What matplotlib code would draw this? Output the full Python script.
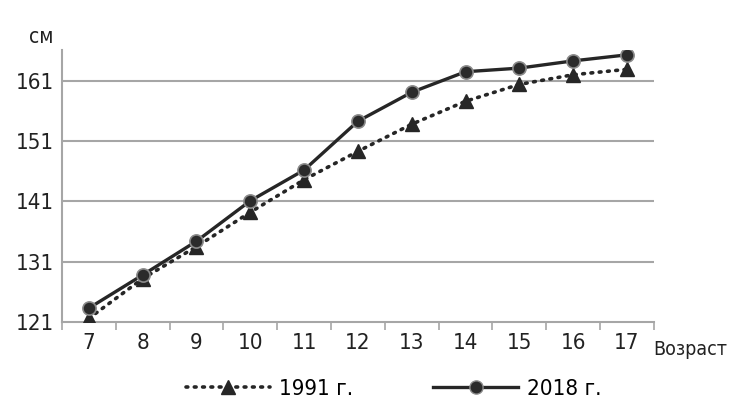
import matplotlib
matplotlib.use("Agg")
import matplotlib.pyplot as plt
from matplotlib.ticker import FixedLocator
from matplotlib.lines import Line2D

ages = ["7", "8", "9", "10", "11", "12", "13", "14", "15", "16", "17"]
h1991 = [121.6, 128.2, 133.5, 139.2, 144.6, 149.3, 153.8, 157.6, 160.4, 162.0, 162.9]
h2018 = [123.3, 128.8, 134.4, 141.1, 146.2, 154.3, 159.1, 162.5, 163.1, 164.3, 165.3]
yticks = [121, 131, 141, 151, 161]

plt.rcParams['font.family'] = ['DejaVu Sans']
plt.rcParams['font.stretch'] = 'condensed'

fig = plt.figure(figsize=(7.29, 4.09), dpi=100)
ax = fig.add_axes([0.085, 0.2127, 0.812, 0.665])

x = range(len(ages))
grid_c = "#a6a6a6"
line_c = "#262626"
txt_c = "#222222"

for yv in yticks[1:]:
    ax.axhline(yv, color=grid_c, linewidth=1.5, zorder=0)

ax.plot(x, h1991, linestyle=(0, (0.5, 1.8)), dash_capstyle="round", color=line_c,
        linewidth=2.6, marker="^", markersize=10, markerfacecolor=line_c,
        markeredgecolor=line_c, zorder=3)
ax.plot(x, h2018, linestyle="-", color=line_c, linewidth=2.4, marker="o",
        markersize=9.5, markerfacecolor="#2b2b2b", markeredgecolor="#8a8a8a",
        markeredgewidth=1.2, zorder=4)

ax.set_xlim(-0.5, len(ages) - 0.5)
ax.set_ylim(121, 166.1)
ax.set_xticks(list(x))
ax.set_xticklabels(ages)
ax.xaxis.set_minor_locator(FixedLocator([i - 0.5 for i in range(len(ages) + 1)]))
ax.tick_params(axis="x", which="major", length=0, pad=8, labelsize=16, labelcolor=txt_c)
ax.tick_params(axis="x", which="minor", length=6, width=1.2, color=grid_c)
ax.set_yticks(yticks)
ax.tick_params(axis="y", length=0, pad=6, labelsize=16, labelcolor=txt_c)

for s in ["top", "right"]:
    ax.spines[s].set_visible(False)
for s in ["left", "bottom"]:
    ax.spines[s].set_color(grid_c)
    ax.spines[s].set_linewidth(1.5)

ax.text(-0.055, 1.01, "см", transform=ax.transAxes, fontsize=15, color=txt_c,
        ha="left", va="bottom")
ax.text(0.999, -0.1, "Возраст", transform=ax.transAxes, fontsize=14, color=txt_c,
        ha="left", va="center")

handles = [
    Line2D([], [], linestyle=(0, (0.5, 1.8)), dash_capstyle="round", color=line_c,
           linewidth=2.6, marker="^", markersize=10),
    Line2D([], [], linestyle="-", color=line_c, linewidth=2.4, marker="o",
           markersize=9.5, markerfacecolor="#2b2b2b", markeredgecolor="#8a8a8a"),
]
fig.legend(handles, ["1991 г.", "2018 г."], loc="center", bbox_to_anchor=(0.54, 0.05),
           ncol=2, frameon=False, fontsize=16, handlelength=3.8, columnspacing=3.6,
           handletextpad=0.4)

fig.savefig("out.png", dpi=100)
